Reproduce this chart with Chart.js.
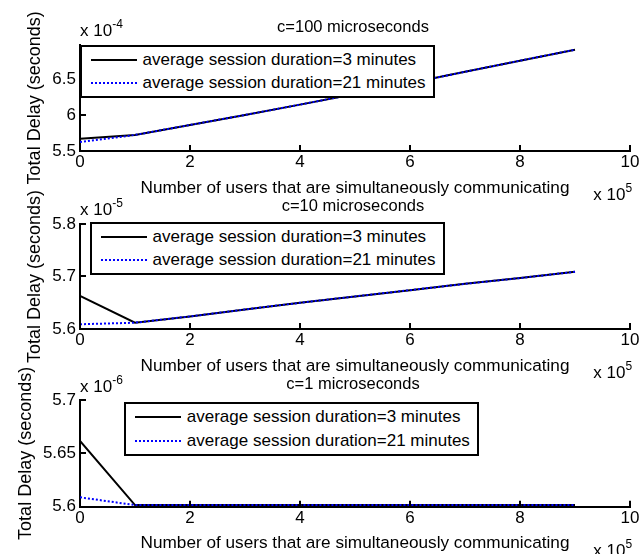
<!DOCTYPE html>
<html><head><meta charset="utf-8">
<script src="https://cdn.jsdelivr.net/npm/chart.js@4.4.0/dist/chart.umd.min.js"></script>
<style>
html,body{margin:0;padding:0;background:#fff;}
#wrap{position:relative;width:641px;height:554px;overflow:hidden;font-family:"Liberation Sans",Arial,sans-serif;color:#000;}
canvas{position:absolute;left:0;top:0;}
.lbl{position:absolute;white-space:nowrap;line-height:20px;z-index:3;}
.lbl .sup{font-size:12px;position:relative;top:-8px;}
.legend{position:absolute;background:#fff;border:2px solid #000;box-sizing:border-box;z-index:2;}
.legend .swatch{position:absolute;width:46px;}
.legend .txt{position:absolute;white-space:nowrap;font-size:17px;line-height:20px;}
</style></head>
<body><div id="wrap"></div>
<script>
// ---------- data ----------
const xValues = [0, 1, 2, 3, 4, 5, 6, 7, 8, 9];           // x 10^5 users
const xTicks = [0, 2, 4, 6, 8, 10];
const xTickLabels = ['0', '2', '4', '6', '8', '10'];
const seriesLabels = ['average session duration=3 minutes', 'average session duration=21 minutes'];
const titles = ['c=100 microseconds', 'c=10 microseconds', 'c=1 microseconds'];
const yExponents = ['-4', '-5', '-6'];
const xExponent = '5';
const xAxisTitle = 'Number of users that are simultaneously communicating';
const yAxisTitle = 'Total Delay (seconds)';

// c = 100 microseconds (x 10^-4 s)
const delay3min_c100  = [5.673, 5.725, 5.865, 6.005, 6.150, 6.300, 6.452, 6.610, 6.766, 6.920];
const delay21min_c100 = [5.627, 5.725, 5.865, 6.005, 6.150, 6.300, 6.452, 6.610, 6.766, 6.920];
const yTicks_c100 = [5.5, 6, 6.5];
const yTickLabels_c100 = ['5.5', '6', '6.5'];

// c = 10 microseconds (x 10^-5 s)
const delay3min_c10  = [5.663, 5.612, 5.624, 5.637, 5.650, 5.662, 5.674, 5.686, 5.697, 5.709];
const delay21min_c10 = [5.609, 5.612, 5.624, 5.637, 5.650, 5.662, 5.674, 5.686, 5.697, 5.709];
const yTicks_c10 = [5.6, 5.7, 5.8];
const yTickLabels_c10 = ['5.6', '5.7', '5.8'];

// c = 1 microsecond (x 10^-6 s)
const delay3min_c1  = [5.6616, 5.6015, 5.6015, 5.6015, 5.6015, 5.6015, 5.6015, 5.6015, 5.6015, 5.6015];
const delay21min_c1 = [5.6088, 5.6015, 5.6015, 5.6015, 5.6015, 5.6015, 5.6015, 5.6015, 5.6015, 5.6015];
const yTicks_c1 = [5.6, 5.65, 5.7];
const yTickLabels_c1 = ['5.6', '5.65', '5.7'];

// ---------- layout ----------
const W = 641, H = 554, XAXIS_H = 47.3, YAXIS_W = 80;
const Y_TITLE_SIZE = 18, X_TITLE_SIZE = 17.2;
const panels = [
  { s3: delay3min_c100, s21: delay21min_c100, yMin: 5.5, yMax: 6.99, yTicks: yTicks_c100, yTickLabels: yTickLabels_c100,
    title: titles[0], yExp: yExponents[0], areaTop: 44.7, areaBottom: 151, yTitleX: 35,
    legend: { left: 80, top: 44.7 }, titleBase: 31.7, expBase: 36.7, xExpBase: 200.7 },
  { s3: delay3min_c10, s21: delay21min_c10, yMin: 5.6, yMax: 5.8, yTicks: yTicks_c10, yTickLabels: yTickLabels_c10,
    title: titles[1], yExp: yExponents[1], areaTop: 224, areaBottom: 329, yTitleX: 35,
    legend: { left: 90, top: 221.7 }, titleBase: 210.7, expBase: 215.5, xExpBase: 378.7 },
  { s3: delay3min_c1, s21: delay21min_c1, yMin: 5.6, yMax: 5.7, yTicks: yTicks_c1, yTickLabels: yTickLabels_c1,
    title: titles[2], yExp: yExponents[2], areaTop: 400, areaBottom: 506.7, yTitleX: 25.7,
    legend: { left: 124.3, top: 402.3 }, titleBase: 388.3, expBase: 393.3, xExpBase: 557 }
];

const wrap = document.getElementById('wrap');
const FONT = '"Liberation Sans", Arial, sans-serif';
Chart.defaults.font.family = FONT;
Chart.defaults.color = '#000';

// inward tick marks (MATLAB style), placed by the chart's own scales
const innerTicks = {
  id: 'innerTicks',
  afterDraw(chart) {
    const { ctx, chartArea: a, scales: { x, y } } = chart;
    ctx.save();
    ctx.strokeStyle = '#000';
    ctx.lineWidth = 2;
    ctx.beginPath();
    x.ticks.forEach(t => {
      const px = Math.round(x.getPixelForValue(t.value));
      ctx.moveTo(px, a.bottom);
      ctx.lineTo(px, a.bottom - 6);
    });
    y.ticks.forEach(t => {
      const py = Math.round(y.getPixelForValue(t.value));
      ctx.moveTo(a.left, py);
      ctx.lineTo(a.left + 6, py);
    });
    ctx.stroke();
    ctx.restore();
  }
};

function addLabel(html, left, baseline, size, align, width) {
  const d = document.createElement('div');
  d.className = 'lbl';
  d.style.fontSize = size + 'px';
  d.innerHTML = html;
  const top = baseline - 15.9 * size / 17;
  d.style.top = top + 'px';
  if (align === 'center') {
    d.style.left = (left - width / 2) + 'px';
    d.style.width = width + 'px';
    d.style.textAlign = 'center';
  } else {
    d.style.left = left + 'px';
  }
  wrap.appendChild(d);
}

function buildLegend(chart, pos) {
  const box = document.createElement('div');
  box.className = 'legend';
  Object.assign(box.style, { left: pos.left + 'px', top: pos.top + 'px', width: '355px', height: '53.5px' });
  const rows = [15, 38.5];
  chart.data.datasets.forEach((ds, i) => {
    const cy = rows[i] - 2;
    const sw = document.createElement('div');
    sw.className = 'swatch';
    sw.style.left = '8.5px';
    sw.style.height = ds.borderWidth + 'px';
    sw.style.top = (cy - ds.borderWidth / 2) + 'px';
    if (ds.borderDash && ds.borderDash.length) {
      const a = ds.borderDash[0], b = ds.borderDash[1];
      sw.style.background = 'repeating-linear-gradient(to right,' + ds.borderColor + ' 0 ' + a + 'px, transparent ' + a + 'px ' + (a + b) + 'px)';
    } else {
      sw.style.background = ds.borderColor;
    }
    const t = document.createElement('div');
    t.className = 'txt';
    t.textContent = ds.label;
    t.style.left = '60.5px';
    t.style.top = (cy - 10) + 'px';
    box.appendChild(sw);
    box.appendChild(t);
  });
  wrap.appendChild(box);
}

panels.forEach((p) => {
  const cv = document.createElement('canvas');
  cv.width = W; cv.height = H;
  wrap.appendChild(cv);
  const chart = new Chart(cv, {
    type: 'line',
    data: {
      datasets: [
        { label: seriesLabels[0], data: xValues.map((x, i) => ({ x: x, y: p.s3[i] })),
          borderColor: '#000000', borderWidth: 2, pointRadius: 0, tension: 0, fill: false, order: 1 },
        { label: seriesLabels[1], data: xValues.map((x, i) => ({ x: x, y: p.s21[i] })),
          borderColor: '#0000ff', borderWidth: 2, borderDash: [2, 2], pointRadius: 0, tension: 0, fill: false, order: 0 }
      ]
    },
    options: {
      responsive: false, animation: false, events: [],
      layout: { padding: { left: 0, right: W - 630, top: p.areaTop, bottom: H - p.areaBottom - XAXIS_H } },
      plugins: { legend: { display: false }, tooltip: { enabled: false }, title: { display: false } },
      scales: {
        x: {
          type: 'linear', min: 0, max: 10,
          afterBuildTicks: (s) => { s.ticks = xTicks.map(v => ({ value: v })); },
          afterFit: (s) => { s.height = XAXIS_H; },
          ticks: { font: { size: 17 }, color: '#000', padding: 1.3, maxRotation: 0, autoSkip: false,
                   callback: (v, i) => xTickLabels[i] },
          grid: { display: false, drawOnChartArea: false, drawTicks: false, tickLength: 0 },
          border: { display: true, color: '#000', width: 2 },
          title: { display: true, text: xAxisTitle, color: '#000', font: { size: X_TITLE_SIZE, lineHeight: 1.2 },
                   padding: { top: 0, bottom: XAXIS_H - 37 - X_TITLE_SIZE * 1.2 / 2 } }
        },
        y: {
          type: 'linear', min: p.yMin, max: p.yMax,
          afterBuildTicks: (s) => { s.ticks = p.yTicks.map(v => ({ value: v })); },
          afterFit: (s) => { s.width = YAXIS_W; },
          ticks: { font: { size: 17 }, color: '#000', padding: 4, autoSkip: false,
                   callback: (v, i) => p.yTickLabels[i] },
          grid: { display: false, drawOnChartArea: false, drawTicks: false, tickLength: 0 },
          border: { display: true, color: '#000', width: 2 },
          title: { display: true, text: yAxisTitle, color: '#000', font: { size: Y_TITLE_SIZE, lineHeight: 1.2 },
                   padding: { top: p.yTitleX - Y_TITLE_SIZE * 1.2 / 2, bottom: 0 } }
        }
      }
    },
    plugins: [innerTicks]
  });
  buildLegend(chart, p.legend);
  addLabel(p.title, 353, p.titleBase, 16.5, 'center', 300);
  addLabel('x 10<span class="sup">' + p.yExp + '</span>', 80, p.expBase, 17);
  addLabel('x 10<span class="sup">' + xExponent + '</span>', 593.3, p.xExpBase, 17);
});
</script>
</body></html>
